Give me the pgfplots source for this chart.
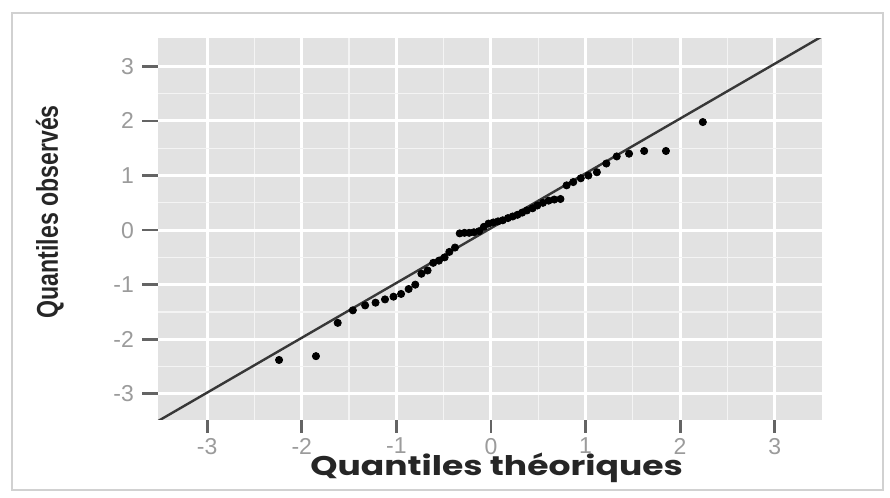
\documentclass[border=0pt]{standalone}
\usepackage{pgfplots}
\pgfplotsset{compat=1.18}
\usepackage{fontspec}
\setmainfont{Liberation Sans}
\newfontfamily\labfont{Poppins}
\newfontfamily\ylabfont{Liberation Sans}
\definecolor{panelgray}{RGB}{226,226,226}
\definecolor{ticklab}{RGB}{155,155,155}
\definecolor{tickcol}{RGB}{100,100,100}
\definecolor{linecol}{RGB}{55,55,55}
\pgfplotsset{
  qqbase/.style={
    scale only axis, at={(79pt,39pt)}, anchor=south west, width=332pt, height=191pt,
    xmin=-3.52, xmax=3.50, ymin=-3.48, ymax=3.52,
    xtick={-3,-2,-1,0,1,2,3}, ytick={-3,-2,-1,0,1,2,3},
  }
}
\begin{document}
\begin{tikzpicture}
\useasboundingbox (0,0) rectangle (445pt,249pt);
\draw[color=black!18, line width=1pt] (6pt,4pt) rectangle (441.5pt,242.5pt);
% panel: background and grid
\begin{axis}[
  qqbase,
  minor tick num=1,
  axis line style={draw=none},
  axis background/.style={fill=panelgray},
  grid=both,
  major grid style={white, line width=1.5pt},
  minor grid style={white!60!panelgray, line width=0.6pt},
  major tick length=0pt, minor tick length=0pt,
  xticklabels={}, yticklabels={},
]
\end{axis}
% labels and data
\begin{axis}[
  qqbase,
  axis line style={draw=none},
  xtick pos=bottom, ytick pos=left,
  tick align=outside,
  major tick length=6.5pt,
  major tick style={draw=none},
  /pgf/number format/assume math mode=true,
  tick label style={font=\fontsize{11.5}{13}\selectfont, text=ticklab},
  xticklabel style={yshift=1pt},
  yticklabel style={xshift=-2pt},
  xlabel={\scalebox{1.28}[1]{\labfont\bfseries Quantiles théoriques}},
  xlabel style={font=\fontsize{13.5}{15}\selectfont, text=black!85, at={(rel axis cs:0.51,-0.125)}, anchor=center},
  ylabel={\scalebox{0.77}[1]{\ylabfont\bfseries Quantiles observés}},
  ylabel style={font=\fontsize{15}{17}\selectfont, text=black!85, at={(rel axis cs:-0.163,0.545)}, anchor=center, rotate=0},
]
\addplot[linecol, line width=1.2pt, no marks, forget plot] coordinates {(-3.52,-3.50) (3.52,3.57)};
\addplot[only marks, mark=*, mark size=1.8pt, black] coordinates {
(-2.24,-2.38) (-1.85,-2.31) (-1.62,-1.70) (-1.46,-1.47) (-1.33,-1.38)
(-1.22,-1.33) (-1.12,-1.27) (-1.03,-1.22) (-0.95,-1.17) (-0.87,-1.08)
(-0.80,-1.00) (-0.735,-0.80) (-0.67,-0.74) (-0.61,-0.60) (-0.55,-0.56)
(-0.49,-0.50) (-0.44,-0.40) (-0.38,-0.32) (-0.33,-0.06) (-0.28,-0.05)
(-0.23,-0.05) (-0.18,-0.04) (-0.125,-0.02) (-0.075,0.06) (-0.025,0.12)
(0.025,0.14) (0.075,0.16) (0.125,0.18) (0.18,0.22) (0.23,0.25)
(0.28,0.28) (0.33,0.32) (0.38,0.36) (0.44,0.40) (0.49,0.45)
(0.55,0.50) (0.61,0.54) (0.67,0.56) (0.735,0.57) (0.80,0.82)
(0.87,0.88) (0.95,0.95) (1.03,1.00) (1.12,1.06) (1.22,1.22)
(1.33,1.35) (1.46,1.40) (1.62,1.45) (1.85,1.45) (2.24,1.98)
};
\end{axis}
% x tick marks: a strip just below the panel
\begin{axis}[
  scale only axis, at={(79pt,32.5pt)}, anchor=south west, width=332pt, height=6.5pt,
  xmin=-3.52, xmax=3.50, ymin=0, ymax=1,
  hide axis,
]
\addplot[ycomb, draw=tickcol, line width=1.4pt, no marks] coordinates {
(-3,1) (-2,1) (-1,1) (0,1) (1,1) (2,1) (3,1)};
\end{axis}
% y tick marks: a strip just left of the panel
\begin{axis}[
  scale only axis, at={(71pt,39pt)}, anchor=south west, width=8pt, height=191pt,
  xmin=0, xmax=1, ymin=-3.48, ymax=3.52,
  hide axis,
]
\addplot[xcomb, draw=tickcol, line width=1.4pt, no marks] coordinates {
(1,-3) (1,-2) (1,-1) (1,0) (1,1) (1,2) (1,3)};
\end{axis}
\end{tikzpicture}
\end{document}
